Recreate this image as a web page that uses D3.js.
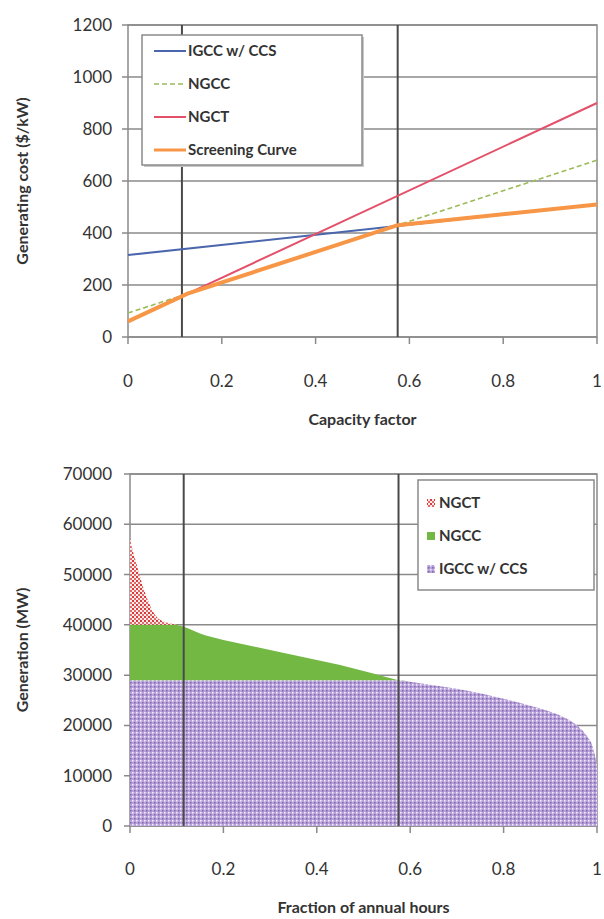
<!DOCTYPE html>
<html>
<head>
<meta charset="utf-8">
<script src="https://cdn.jsdelivr.net/npm/d3@7"></script>
<style>
    body { margin: 0; background: #fff; }
    text { font-family: Lato, "Open Sans", sans-serif; fill: #333; }
</style>
</head>
<body>
<svg width="604" height="919"></svg>
<script>
// Top chart: generating cost vs capacity factor (straight lines, endpoints)
const cost_series = [
    {name: "IGCC w/ CCS", color: "#4a66ac", width: 2, dash: null, points: [[0, 315], [1, 510]]},
    {name: "NGCC", color: "#9bbb59", width: 1.6, dash: "5,3", points: [[0, 92], [1, 680]]},
    {name: "NGCT", color: "#e4506a", width: 2, dash: null, points: [[0, 60], [1, 900]]},
    {name: "Screening Curve", color: "#f79646", width: 4, dash: null,
        points: [[0, 60], [0.127, 167], [0.575, 430], [1, 510]]}
]
const cost_ticks = [0, 200, 400, 600, 800, 1000, 1200]
const cf_ticks = [0, 0.2, 0.4, 0.6, 0.8, 1]
const marker_lines = [0.115, 0.575]

// Bottom chart: load duration curve split by technology (MW)
const fraction = [0, 0.005, 0.01, 0.02, 0.03, 0.04, 0.05, 0.06, 0.08, 0.1,
    0.115, 0.15, 0.2, 0.25, 0.3, 0.35, 0.4, 0.45, 0.5, 0.55,
    0.575, 0.6, 0.65, 0.7, 0.75, 0.8, 0.85, 0.9, 0.93, 0.96, 0.98, 0.99, 1]
const igcc = [29000, 29000, 29000, 29000, 29000, 29000, 29000, 29000, 29000, 29000,
    29000, 29000, 29000, 29000, 29000, 29000, 29000, 29000, 29000, 29000,
    29000, 28700, 28000, 27300, 26400, 25300, 24100, 22700, 21600, 19800, 17700, 16000, 12000]
const ngcc = [11000, 11000, 11000, 11000, 11000, 11000, 11000, 11000, 11000, 11000,
    10600, 9300, 8000, 7000, 6000, 5000, 4000, 3000, 1800, 600,
    0, 0, 0, 0, 0, 0, 0, 0, 0, 0, 0, 0, 0]
const ngct = [17500, 15000, 13500, 10000, 7000, 4500, 2500, 1300, 400, 0,
    0, 0, 0, 0, 0, 0, 0, 0, 0, 0,
    0, 0, 0, 0, 0, 0, 0, 0, 0, 0, 0, 0, 0]
const gen_ticks = [0, 10000, 20000, 30000, 40000, 50000, 60000, 70000]
const gen_keys = ["igcc", "ngcc", "ngct"]
const gen_legend = [
    {key: "ngct", label: "NGCT"},
    {key: "ngcc", label: "NGCC"},
    {key: "igcc", label: "IGCC w/ CCS"}
]

const svg = d3.select("svg")
const defs = svg.append("defs")

// fill patterns
const p_ngct = defs.append("pattern").attr("id", "p-ngct")
    .attr("width", 4).attr("height", 4).attr("patternUnits", "userSpaceOnUse")
p_ngct.append("rect").attr("width", 4).attr("height", 4).attr("fill", "#fbeaea")
p_ngct.append("rect").attr("x", 0).attr("y", 0).attr("width", 2).attr("height", 2).attr("fill", "#d83a3a")
p_ngct.append("rect").attr("x", 2).attr("y", 2).attr("width", 2).attr("height", 2).attr("fill", "#e06a6a")

const p_igcc = defs.append("pattern").attr("id", "p-igcc")
    .attr("width", 4).attr("height", 4).attr("patternUnits", "userSpaceOnUse")
p_igcc.append("rect").attr("width", 4).attr("height", 4).attr("fill", "#b9a2dc")
p_igcc.append("rect").attr("x", 0).attr("y", 0).attr("width", 1.5).attr("height", 1.5).attr("fill", "#f4eefb")
p_igcc.append("rect").attr("x", 2).attr("y", 2).attr("width", 1.5).attr("height", 1.5).attr("fill", "#7f67a8")

const fills = {igcc: "url(#p-igcc)", ngcc: "#72b843", ngct: "url(#p-ngct)"}

function draw_frame(g, x, y, y_ticks, x_ticks, x_fmt, label_y, y_title, x_title, title_cy) {
    const [x0, x1] = x.range()
    const [y0, y1] = y.range()

    // horizontal gridlines
    g.append("g")
        .selectAll("line")
        .data(y_ticks)
        .enter()
        .append("line")
        .attr("x1", x0 - 6).attr("x2", x1)
        .attr("y1", d => y(d)).attr("y2", d => y(d))
        .attr("stroke", "#8a8a8a").attr("stroke-width", 1.5)

    // plot box
    g.append("rect")
        .attr("x", x0).attr("y", y1)
        .attr("width", x1 - x0).attr("height", y0 - y1)
        .attr("fill", "none").attr("stroke", "#8a8a8a").attr("stroke-width", 1.5)

    // y tick labels
    g.append("g")
        .selectAll("text")
        .data(y_ticks)
        .enter()
        .append("text")
        .attr("x", 112).attr("y", d => y(d))
        .attr("dy", "0.35em")
        .attr("text-anchor", "end")
        .attr("font-size", 17)
        .text(d => d)

    // x ticks and labels
    g.append("g")
        .selectAll("line")
        .data(x_ticks)
        .enter()
        .append("line")
        .attr("x1", d => x(d)).attr("x2", d => x(d))
        .attr("y1", y0).attr("y2", y0 + 7)
        .attr("stroke", "#8a8a8a").attr("stroke-width", 1.5)

    g.append("g")
        .selectAll("text")
        .data(x_ticks)
        .enter()
        .append("text")
        .attr("x", d => x(d)).attr("y", label_y)
        .attr("dy", "0.35em")
        .attr("text-anchor", "middle")
        .attr("font-size", 17)
        .text(x_fmt)

    g.append("text")
        .attr("transform", `translate(22,${title_cy}) rotate(-90)`)
        .attr("text-anchor", "middle")
        .attr("dy", "0.35em")
        .attr("font-size", 16)
        .attr("font-weight", "bold")
        .text(y_title)

    g.append("text")
        .attr("x", (x0 + x1) / 2).attr("y", label_y + 38)
        .attr("dy", "0.35em")
        .attr("text-anchor", "middle")
        .attr("font-size", 16)
        .attr("font-weight", "bold")
        .text(x_title)
}

function draw_markers(g, x, y) {
    const [y0, y1] = y.range()
    g.append("g")
        .selectAll("line")
        .data(marker_lines)
        .enter()
        .append("line")
        .attr("x1", d => x(d)).attr("x2", d => x(d))
        .attr("y1", y0).attr("y2", y1)
        .attr("stroke", "#4a4a4a").attr("stroke-width", 2)
}

// ---------- top chart ----------
const x_top = d3.scaleLinear().domain([0, 1]).range([128, 597])
const y_top = d3.scaleLinear().domain([0, 1200]).range([337, 25])
const top_g = svg.append("g")

draw_frame(top_g, x_top, y_top, cost_ticks, cf_ticks, d => d, 381,
    "Generating cost ($/kW)", "Capacity factor", 181)
draw_markers(top_g, x_top, y_top)

const line = d3.line().x(d => x_top(d[0])).y(d => y_top(d[1]))

top_g.append("g")
    .selectAll("path")
    .data(cost_series)
    .enter()
    .append("path")
    .attr("d", d => line(d.points))
    .attr("fill", "none")
    .attr("stroke", d => d.color)
    .attr("stroke-width", d => d.width)
    .attr("stroke-dasharray", d => d.dash)

// top legend
const leg1 = top_g.append("g").attr("transform", "translate(142,35)")
leg1.append("rect")
    .attr("x", 2).attr("y", 2).attr("width", 220).attr("height", 130)
    .attr("fill", "#c8c8c8")
leg1.append("rect")
    .attr("width", 220).attr("height", 130)
    .attr("fill", "#fff").attr("stroke", "#8a8a8a").attr("stroke-width", 1.5)
const items1 = leg1.selectAll("g.item")
    .data(cost_series)
    .enter()
    .append("g")
    .attr("class", "item")
    .attr("transform", (d, i) => `translate(0,${16 + i * 33})`)
items1.append("line")
    .attr("x1", 12).attr("x2", 44)
    .attr("stroke", d => d.color)
    .attr("stroke-width", d => Math.min(d.width, 3))
    .attr("stroke-dasharray", d => d.dash)
items1.append("text")
    .attr("x", 46).attr("dy", "0.35em")
    .attr("font-size", 15).attr("font-weight", "bold")
    .text(d => d.name)

// ---------- bottom chart ----------
const x_bot = d3.scaleLinear().domain([0, 1]).range([130, 597])
const y_bot = d3.scaleLinear().domain([0, 70000]).range([826, 474])
const bot_g = svg.append("g")

draw_frame(bot_g, x_bot, y_bot, gen_ticks, cf_ticks, d => d, 869,
    "Generation (MW)", "Fraction of annual hours", 650)

const table = fraction.map((f, i) => ({f: f, igcc: igcc[i], ngcc: ngcc[i], ngct: ngct[i]}))
const stacked = d3.stack().keys(gen_keys)(table)

const area = d3.area()
    .curve(d3.curveMonotoneX)
    .x(d => x_bot(d.data.f))
    .y0(d => y_bot(d[0]))
    .y1(d => y_bot(d[1]))

bot_g.append("g")
    .selectAll("path")
    .data(stacked)
    .enter()
    .append("path")
    .attr("d", area)
    .attr("fill", d => fills[d.key])

draw_markers(bot_g, x_bot, y_bot)

// bottom legend
const leg2 = bot_g.append("g").attr("transform", "translate(418,480)")
leg2.append("rect")
    .attr("width", 176).attr("height", 110)
    .attr("fill", "#fff").attr("stroke", "#8a8a8a").attr("stroke-width", 1.5)
const items2 = leg2.selectAll("g.item")
    .data(gen_legend)
    .enter()
    .append("g")
    .attr("class", "item")
    .attr("transform", (d, i) => `translate(0,${23 + i * 33})`)
items2.append("rect")
    .attr("x", 9).attr("y", -4).attr("width", 8).attr("height", 8)
    .attr("fill", d => fills[d.key])
items2.append("text")
    .attr("x", 21).attr("dy", "0.35em")
    .attr("font-size", 15).attr("font-weight", "bold")
    .text(d => d.label)
</script>
</body>
</html>
